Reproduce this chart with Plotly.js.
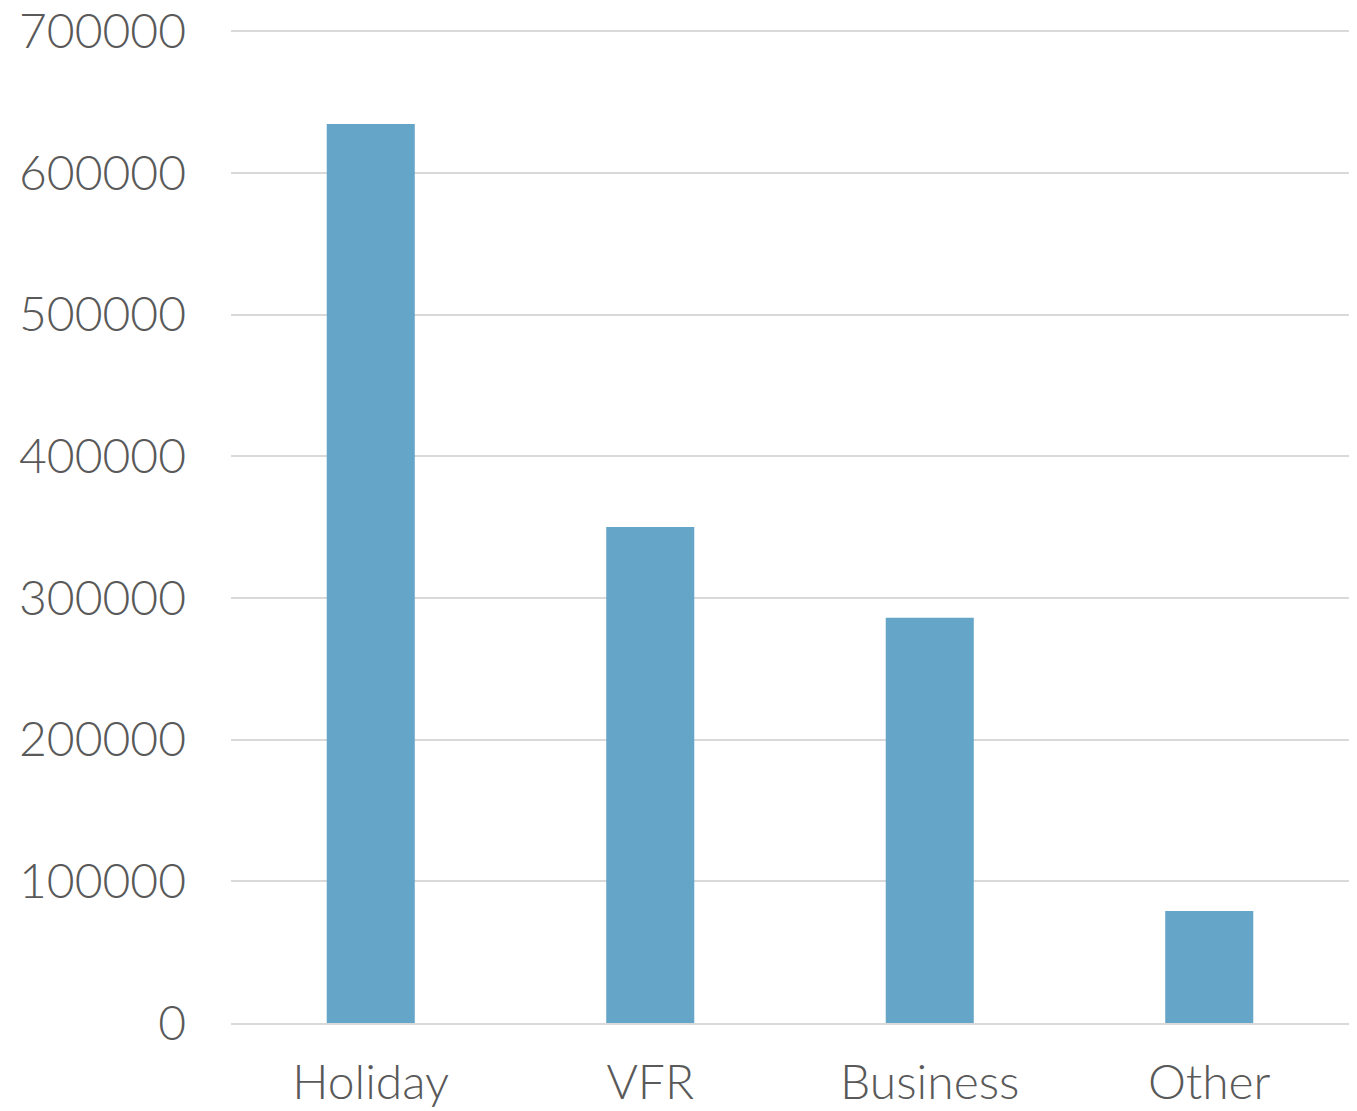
<!DOCTYPE html>
<html><head><meta charset="utf-8">
<script src="https://cdn.plot.ly/plotly-3.0.1.min.js"></script>
<style>html,body{margin:0;padding:0;background:#fff}#chart{width:1357px;height:1111px}</style>
</head><body><div id="chart"></div>
<script>
const categories = ["Holiday", "VFR", "Business", "Other"];
const visitors = [634500, 350000, 286000, 79000];
const yTicks = [0, 100000, 200000, 300000, 400000, 500000, 600000, 700000];

const trace = {
  type: "bar",
  x: categories,
  y: visitors,
  marker: {color: "#64a5c8"},
  hoverinfo: "x+y"
};
const layout = {
  width: 1357, height: 1111,
  margin: {l: 231, r: 8, t: 30, b: 88},
  paper_bgcolor: "#fff", plot_bgcolor: "#fff",
  bargap: 0.685,
  showlegend: false,
  font: {family: "Lato, 'Open Sans', sans-serif", color: "#595959", size: 48, weight: 300},
  xaxis: {
    showgrid: false, showline: true, linecolor: "#d9d9d9", linewidth: 2,
    ticks: "", ticklabelstandoff: 16,
    tickfont: {size: 48, color: "#595959", weight: 300}
  },
  yaxis: {
    range: [0, 700800], tickvals: yTicks, ticktext: yTicks.map(String),
    showgrid: true, gridcolor: "#d9d9d9", gridwidth: 2,
    zeroline: false, showline: false, ticks: "",
    ticklabelstandoff: 44,
    tickfont: {size: 48, color: "#595959", weight: 300}
  }
};
Plotly.newPlot("chart", [trace], layout, {displayModeBar: false, staticPlot: true});
</script></body></html>
